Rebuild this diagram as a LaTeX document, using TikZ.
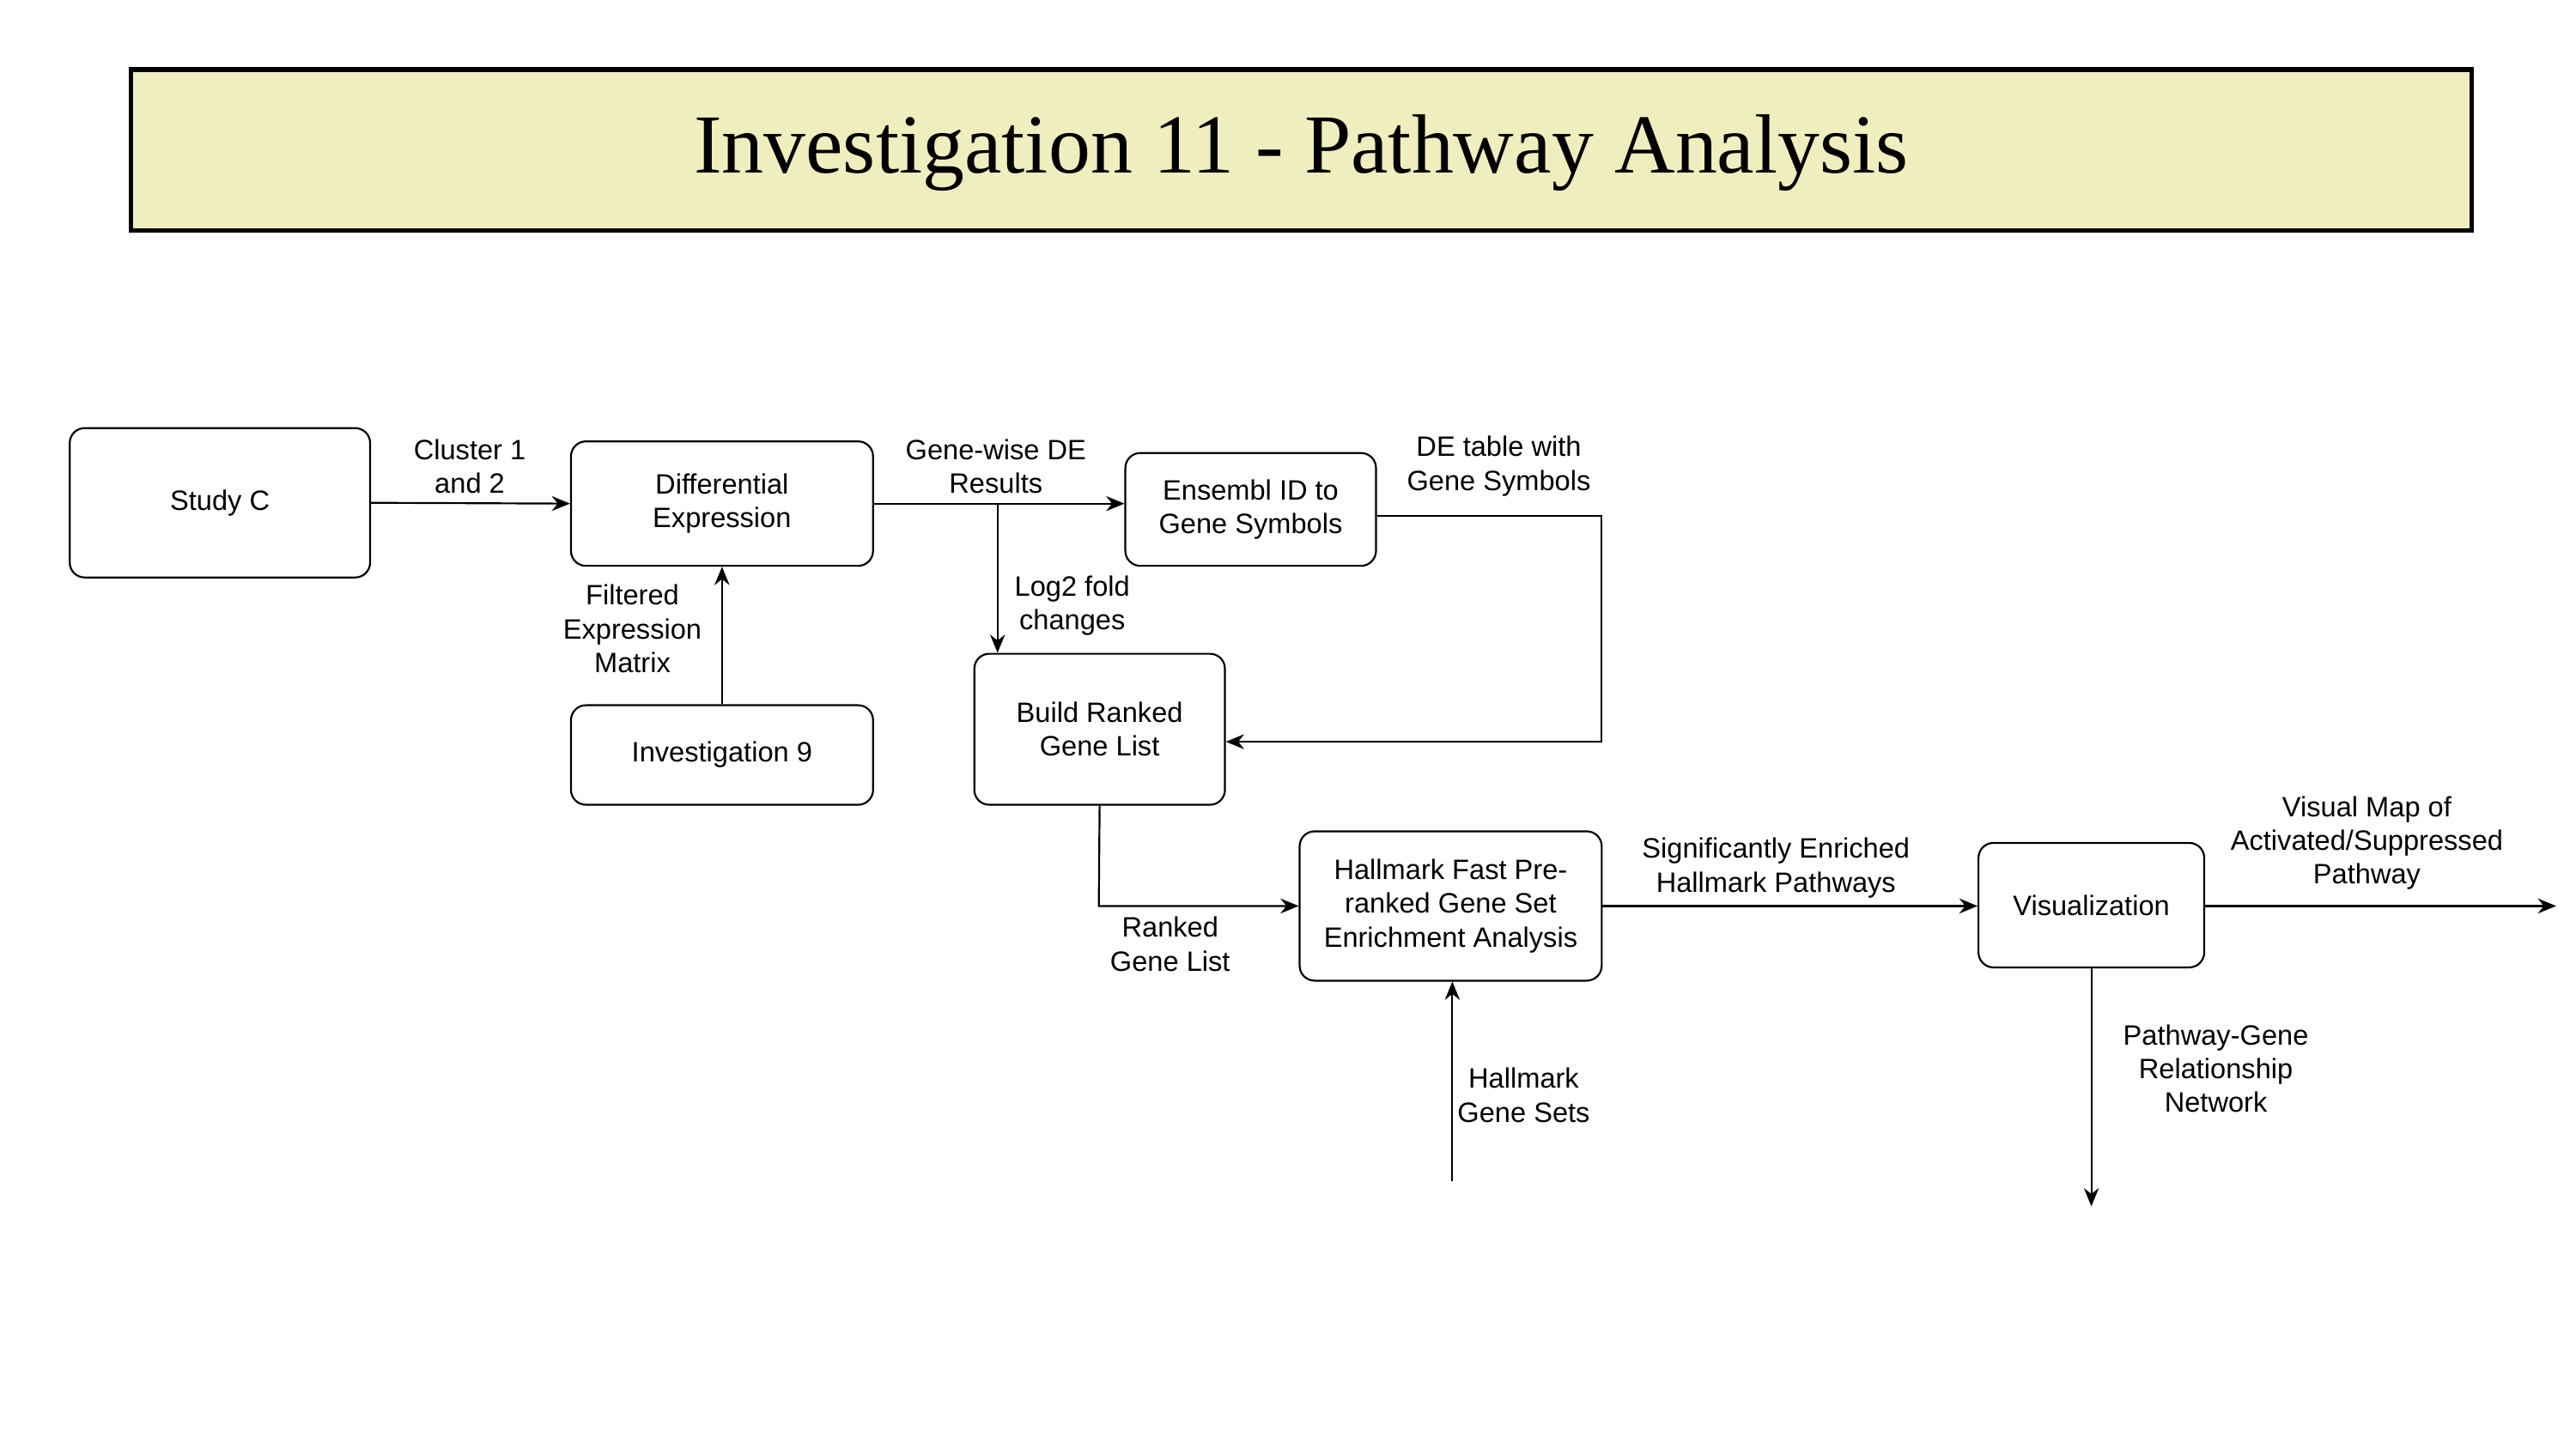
\documentclass[tikz,border=0pt]{standalone}
\usepackage{fontspec}
\setmainfont{Liberation Sans}
\newfontfamily\titlefont{Liberation Serif}
\usetikzlibrary{arrows.meta}
\begin{document}
\begin{tikzpicture}[x=0.05cm,y=-0.05cm,
 box/.style={draw,line width=1.6pt,rounded corners=0.45cm,align=center,font=\fontsize{24}{29}\selectfont,inner sep=0},
 lab/.style={align=center,font=\fontsize{24}{29}\selectfont},
 ar/.style={line width=1.6pt,-{Stealth[length=0.55cm,width=0.45cm]}}]
\useasboundingbox (0,0) rectangle (1552,873);
\draw[line width=4pt,fill={rgb,255:red,239;green,238;blue,190}] (79,42) rectangle (1489,139);
\node[font=\titlefont\fontsize{72}{80}\selectfont] (title) at (784,92) {Investigation 11 - Pathway Analysis};
\node[box,minimum width=181*0.05cm,minimum height=90*0.05cm] (study) at (132.5,303) {Study C};
\node[box,minimum width=182*0.05cm,minimum height=75*0.05cm] (diff) at (435,303.5) {Differential\\Expression};
\node[box,minimum width=182*0.05cm,minimum height=60*0.05cm] (inv9) at (435,455) {Investigation 9};
\node[box,minimum width=151*0.05cm,minimum height=68*0.05cm] (ens) at (753.5,307) {Ensembl ID to\\Gene Symbols};
\node[box,minimum width=151*0.05cm,minimum height=91*0.05cm] (build) at (662.5,439.5) {Build Ranked\\Gene List};
\node[box,minimum width=182*0.05cm,minimum height=90*0.05cm] (hall) at (874,546) {Hallmark Fast Pre-\\ranked Gene Set\\Enrichment Analysis};
\node[box,minimum width=136*0.05cm,minimum height=75*0.05cm] (vis) at (1260,545.5) {Visualization};
\coordinate (split) at (601,303);
\coordinate (c1) at (965,311);
\coordinate (c2) at (965,447);
\coordinate (c3) at (662,546);
\coordinate (hsrc) at (875,712);
\coordinate (vend) at (1540,546);
\coordinate (nend) at (1260,727);
\draw[ar] (study.east) -- (diff.west);
\draw[ar] (diff.east) -- (ens.west|-diff.east);
\draw[ar] (split) -- (split|-build.north);
\draw[ar] (ens.east|-c1) -- (c1) -- (c2) -- (build.east|-c2);
\draw[ar] (inv9.north) -- (diff.south);
\draw[ar] (build.south) -- (c3) -- (hall.west);
\draw[ar] (hsrc) -- (hsrc|-hall.south);
\draw[ar] (hall.east) -- (vis.west|-hall.east);
\draw[ar] (vis.east|-vend) -- (vend);
\draw[ar] (vis.south) -- (nend);
\node[lab] (l1) at (283,281) {Cluster 1\\and 2};
\node[lab] (l2) at (600,281) {Gene-wise DE\\Results};
\node[lab] (l3) at (646,365) {Log2 fold\\changes};
\node[lab] (l4) at (903,281) {DE table with\\Gene Symbols};
\node[lab] (l5) at (381,379) {Filtered\\Expression\\Matrix};
\node[lab] (l6) at (705,569) {Ranked\\Gene List};
\node[lab] (l7) at (918,660) {Hallmark\\Gene Sets};
\node[lab] (l8) at (1070,523) {Significantly Enriched\\Hallmark Pathways};
\node[lab] (l9) at (1426,508) {Visual Map of\\Activated/Suppressed\\Pathway};
\node[lab] (l10) at (1335,644) {Pathway-Gene\\Relationship\\Network};
\end{tikzpicture}
\end{document}
